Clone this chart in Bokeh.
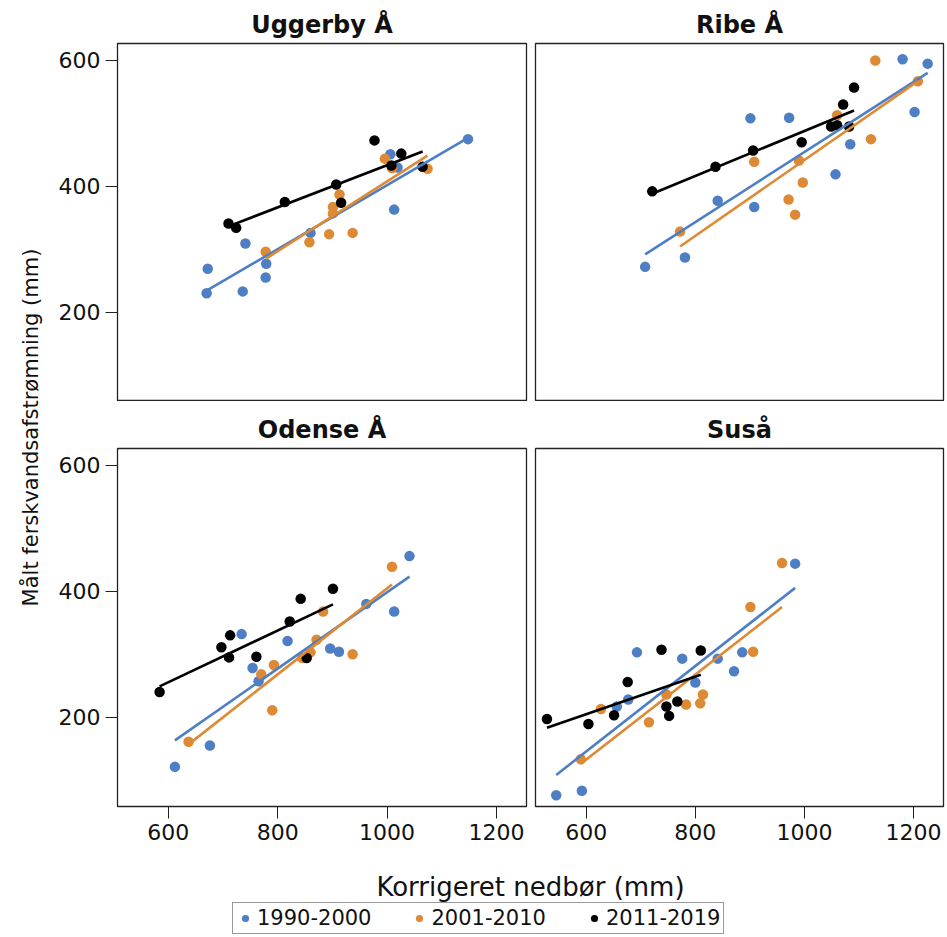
import numpy as np
from bokeh.plotting import figure
from bokeh.layouts import row, column
from bokeh.models import Range1d, FixedTicker, Label, Legend, LegendItem
from bokeh.embed import file_html
from bokeh.resources import INLINE

FONT = "DejaVu Sans"
PERIODS = ["1990-2000", "2001-2010", "2011-2019"]
COLORS = ["#4E7FC4", "#DE8A35", "#000000"]
STATIONS = ["Uggerby Å", "Ribe Å", "Odense Å", "Suså"]

X_TICKS = [600, 800, 1000, 1200]
Y_TICKS = [200, 400, 600]

# ---- Uggerby Å ----
ugg_x_9000 = [672, 670, 736, 741, 778, 779, 860, 1006, 1019, 1013, 1148]
ugg_y_9000 = [269, 230, 233, 309, 255, 277, 326, 451, 430, 363, 475]
ugg_x_0110 = [778, 858, 894, 937, 901, 901, 913, 996, 1009, 1074]
ugg_y_0110 = [296, 311, 324, 326, 367, 357, 387, 444, 429, 428]
ugg_x_1119 = [710, 724, 813, 907, 916, 977, 1026, 1008, 1065]
ugg_y_1119 = [341, 334, 375, 403, 374, 473, 452, 433, 431]

# ---- Ribe Å ----
ribe_x_9000 = [708, 781, 841, 908, 901, 972, 1057, 1084, 1180, 1226, 1202]
ribe_y_9000 = [272, 287, 377, 367, 508, 509, 419, 467, 602, 595, 518]
ribe_x_0110 = [772, 908, 990, 997, 971, 983, 1060, 1122, 1130, 1208]
ribe_y_0110 = [328, 439, 441, 406, 379, 355, 513, 475, 600, 567]
ribe_x_1119 = [721, 837, 906, 995, 1049, 1060, 1082, 1071, 1091]
ribe_y_1119 = [392, 431, 457, 470, 495, 497, 495, 530, 557]

# ---- Odense Å ----
ode_x_9000 = [612, 676, 734, 754, 765, 818, 896, 912, 962, 1013, 1041]
ode_y_9000 = [121, 155, 332, 278, 257, 321, 309, 304, 380, 368, 456]
ode_x_0110 = [637, 770, 793, 790, 845, 860, 871, 883, 937, 1009]
ode_y_0110 = [161, 268, 283, 211, 294, 303, 323, 368, 300, 439]
ode_x_1119 = [584, 697, 713, 711, 761, 822, 842, 853, 901]
ode_y_1119 = [240, 311, 330, 295, 296, 352, 388, 294, 404]

# ---- Suså ----
sus_x_9000 = [545, 592, 656, 677, 693, 776, 800, 841, 871, 886, 983]
sus_y_9000 = [76, 83, 217, 228, 303, 293, 255, 293, 273, 303, 444]
sus_x_0110 = [590, 627, 715, 747, 783, 809, 814, 906, 901, 959]
sus_y_0110 = [133, 213, 192, 236, 220, 222, 236, 304, 375, 445]
sus_x_1119 = [528, 604, 651, 676, 738, 747, 752, 767, 810]
sus_y_1119 = [197, 189, 203, 256, 307, 217, 202, 225, 306]

DATA = {
    STATIONS[0]: [(ugg_x_9000, ugg_y_9000), (ugg_x_0110, ugg_y_0110), (ugg_x_1119, ugg_y_1119)],
    STATIONS[1]: [(ribe_x_9000, ribe_y_9000), (ribe_x_0110, ribe_y_0110), (ribe_x_1119, ribe_y_1119)],
    STATIONS[2]: [(ode_x_9000, ode_y_9000), (ode_x_0110, ode_y_0110), (ode_x_1119, ode_y_1119)],
    STATIONS[3]: [(sus_x_9000, sus_y_9000), (sus_x_0110, sus_y_0110), (sus_x_1119, sus_y_1119)],
}

FRAME_WL = 409
FRAME_WR = 408
FRAME_H = 358
TOP_B1 = 43
TOP_B2 = 47
BOT_B = 40
YLAB_W = 48


def make_panel(name, left, bottom):
    kw = dict(
        frame_width=FRAME_WL if left else FRAME_WR, frame_height=FRAME_H,
        x_range=Range1d(507, 1255), y_range=Range1d(58, 627),
        output_backend="svg", toolbar_location=None, tools="",
        title=name,
        min_border_top=TOP_B1 if name in STATIONS[:2] else TOP_B2,
        min_border_bottom=BOT_B if bottom else 0,
        min_border_left=69 if left else 5,
        min_border_right=4 if left else 2,
    )
    if not bottom:
        kw["x_axis_location"] = None
    if not left:
        kw["y_axis_location"] = None
    p = figure(**kw)
    p.title.align = "center"
    p.title.text_font = FONT
    p.title.text_font_size = "24px"
    p.title.text_font_style = "bold"
    p.title.text_color = "#111111"
    p.title.standoff = 10
    p.grid.visible = False
    p.outline_line_color = "#222222"
    p.outline_line_width = 1.3
    p.background_fill_color = "white"
    p.border_fill_color = "white"
    for ax in (p.xaxis + p.yaxis):
        ax.axis_line_color = "#222222"
        ax.major_tick_line_color = "#222222"
        ax.major_tick_out = 12
        ax.major_tick_in = 0
        ax.minor_tick_line_color = None
        ax.major_label_text_font = FONT
        ax.major_label_text_font_size = "22px"
        ax.major_label_text_color = "#111111"
        ax.major_label_standoff = 5
    if bottom:
        p.xaxis.ticker = FixedTicker(ticks=X_TICKS)
    if left:
        p.yaxis.ticker = FixedTicker(ticks=Y_TICKS)

    groups = DATA[name]
    for (xs, ys), c in zip(groups, COLORS):
        p.scatter(xs, ys, size=10.5, color=c, line_color=c, line_width=0)
    for (xs, ys), c in zip(groups, COLORS):
        xs_a = np.asarray(xs, dtype=float)
        ys_a = np.asarray(ys, dtype=float)
        k, m = np.polyfit(xs_a, ys_a, 1)
        lx = np.array([xs_a.min(), xs_a.max()])
        p.line(lx, k * lx + m, color=c, line_width=2.6)
    return p


tl = make_panel(STATIONS[0], True, False)
tr = make_panel(STATIONS[1], False, False)
bl = make_panel(STATIONS[2], True, True)
br = make_panel(STATIONS[3], False, True)

grid = column(row(tl, tr, spacing=0), row(bl, br, spacing=0), spacing=0)

GRID_H = (TOP_B1 + FRAME_H) + (TOP_B2 + FRAME_H + BOT_B)

# y-axis label figure
ylab = figure(width=YLAB_W, height=GRID_H, x_range=Range1d(0, YLAB_W), y_range=Range1d(0, GRID_H),
              output_backend="svg", toolbar_location=None, tools="",
              x_axis_location=None, y_axis_location=None,
              min_border=0)
ylab.outline_line_color = None
ylab.grid.visible = False
ylab.add_layout(Label(x=30, y=GRID_H - 427, text="Målt ferskvandsafstrømning (mm)",
                      angle=np.pi / 2, text_align="center", text_baseline="middle",
                      text_font=FONT, text_font_size="21px", text_color="#111111"))

# bottom: x label and legend
BW, BH = 945, 89
bot = figure(width=BW, height=BH, x_range=Range1d(0, BW), y_range=Range1d(0, BH),
             output_backend="svg", toolbar_location=None, tools="",
             x_axis_location=None, y_axis_location=None, min_border=0)
bot.outline_line_color = None
bot.grid.visible = False
bot.add_layout(Label(x=530, y=BH - 40, text="Korrigeret nedbør (mm)",
                     text_align="center", text_baseline="middle",
                     text_font=FONT, text_font_size="26px", text_color="#111111"))
items = []
for (xs, ys), lab, c in zip(DATA[STATIONS[3]], PERIODS, COLORS):
    r = bot.scatter(xs, ys, size=8, color=c, line_width=0, visible=False)
    items.append(LegendItem(label=lab, renderers=[r]))
leg = Legend(items=items, orientation="horizontal", location=(232, 1),
             label_text_font=FONT, label_text_font_size="21px", label_text_color="#111111",
             label_height=18,
             border_line_color="#333333", border_line_width=1.2,
             glyph_width=18, glyph_height=18, label_standoff=3, spacing=39,
             padding=3, margin=0, background_fill_alpha=1,
             inactive_fill_alpha=0)
bot.add_layout(leg, "center")

layout = column(row(ylab, grid, spacing=0), bot, spacing=0)

open("out.html", "w").write(file_html(layout, INLINE))
